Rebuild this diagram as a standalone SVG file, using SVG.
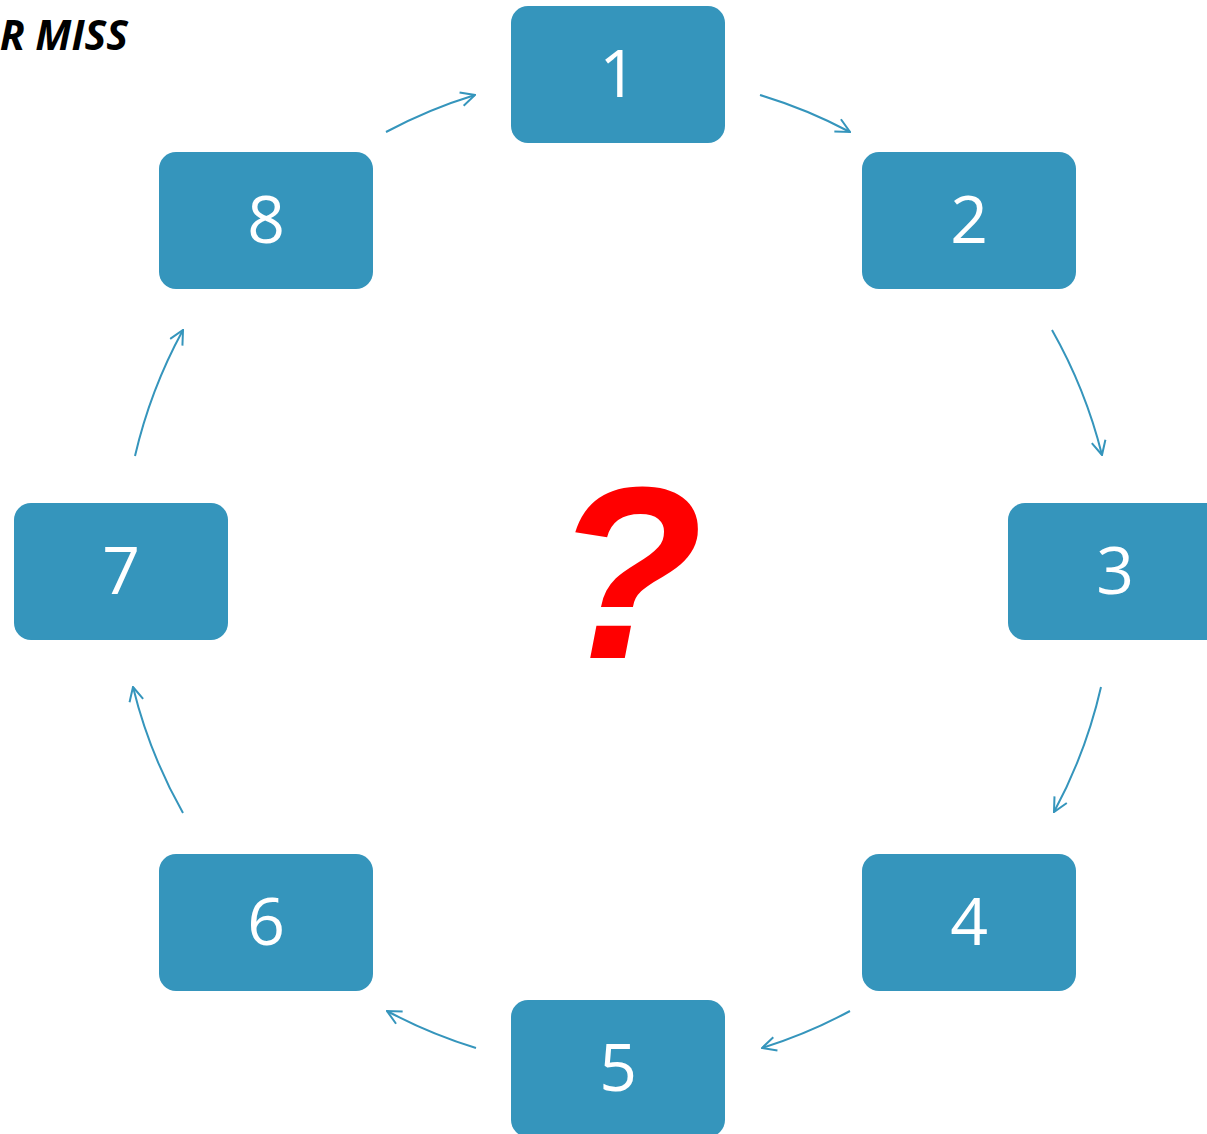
<svg xmlns="http://www.w3.org/2000/svg" width="1207" height="1134" viewBox="0 0 1207 1134">
<style>
.box{fill:#3595bc}
.num{fill:#ffffff;font-family:"Open Sans","DejaVu Sans",sans-serif;font-size:66px;text-anchor:middle}
.arc{fill:none;stroke:#3595bc;stroke-width:2}
</style>
<defs>
<marker id="ah" markerUnits="userSpaceOnUse" viewBox="0 0 16 16" markerWidth="16" markerHeight="16" refX="15" refY="8" orient="auto">
<path d="M1,1 L15,8 L1,15" fill="none" stroke="#3595bc" stroke-width="2"/>
</marker>
</defs>
<rect width="1207" height="1134" fill="#ffffff"/>
<text x="128" y="50" font-family="'Open Sans','DejaVu Sans',sans-serif" font-weight="bold" font-style="italic" font-size="41" text-anchor="end" fill="#000000">R MISS</text>
<g id="connectors">
<path class="arc" marker-end="url(#ah)" d="M760,95 A496,496 0 0 1 850,132"/>
<path class="arc" marker-end="url(#ah)" d="M1052,330 A496,496 0 0 1 1102,455"/>
<path class="arc" marker-end="url(#ah)" d="M1101,687 A496,496 0 0 1 1054,812"/>
<path class="arc" marker-end="url(#ah)" d="M850,1011 A496,496 0 0 1 762,1048"/>
<path class="arc" marker-end="url(#ah)" d="M476,1048 A496,496 0 0 1 387,1011"/>
<path class="arc" marker-end="url(#ah)" d="M183,813 A496,496 0 0 1 133,687"/>
<path class="arc" marker-end="url(#ah)" d="M135,456 A496,496 0 0 1 183,330"/>
<path class="arc" marker-end="url(#ah)" d="M386,132 A496,496 0 0 1 475,95"/>
</g>
<g id="n1"><rect class="box" x="511" y="6" width="214" height="137" rx="17"/><text class="num" x="618" y="97">1</text></g>
<g id="n2"><rect class="box" x="862" y="152" width="214" height="137" rx="17"/><text class="num" x="969" y="243">2</text></g>
<g id="n3"><rect class="box" x="1008" y="503" width="214" height="137" rx="17"/><text class="num" x="1115" y="594">3</text></g>
<g id="n4"><rect class="box" x="862" y="854" width="214" height="137" rx="17"/><text class="num" x="969" y="945">4</text></g>
<g id="n5"><rect class="box" x="511" y="1000" width="214" height="137" rx="17"/><text class="num" x="618" y="1091">5</text></g>
<g id="n6"><rect class="box" x="159" y="854" width="214" height="137" rx="17"/><text class="num" x="266" y="945">6</text></g>
<g id="n7"><rect class="box" x="14" y="503" width="214" height="137" rx="17"/><text class="num" x="121" y="594">7</text></g>
<g id="n8"><rect class="box" x="159" y="152" width="214" height="137" rx="17"/><text class="num" x="266" y="243">8</text></g>
<text x="628" y="658" font-family="'Liberation Sans',Arial,sans-serif" font-weight="bold" font-style="italic" font-size="245" text-anchor="middle" fill="#ff0000">?</text>
</svg>
